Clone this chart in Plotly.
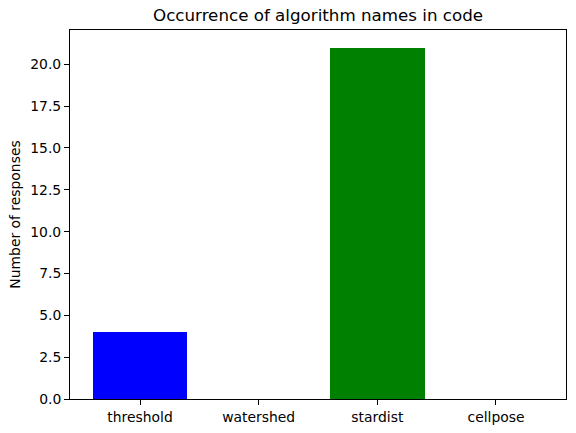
import plotly.graph_objects as go

categories = ["threshold", "watershed", "stardist", "cellpose"]
counts = [4, 0, 21, 0]
bar_colors = ["blue", "red", "green", "orange"]
y_ticks = [0, 2.5, 5, 7.5, 10, 12.5, 15, 17.5, 20]

FONT = "DejaVu Sans"
TICK_SIZE = 13.9
TITLE_SIZE = 16.7

fig = go.Figure()
fig.add_trace(go.Bar(
    x=list(range(len(categories))),
    y=counts,
    width=0.8,
    marker=dict(color=bar_colors, line=dict(width=0)),
    showlegend=False,
))

fig.update_layout(
    width=576, height=433,
    margin=dict(l=70, r=10, t=30, b=34),
    paper_bgcolor="white", plot_bgcolor="white",
    font=dict(family=FONT, size=TICK_SIZE, color="black"),
    bargap=0,
    annotations=[
        dict(text="Occurrence of algorithm names in code", x=0.5, y=1,
             xref="paper", yref="paper", xanchor="center", yanchor="bottom",
             yshift=3, showarrow=False, font=dict(family=FONT, size=TITLE_SIZE, color="black")),
    ],
)

fig.update_xaxes(
    range=[-0.59, 3.59], automargin=False,
    tickmode="array", tickvals=list(range(len(categories))), ticktext=categories,
    showline=True, linecolor="black", linewidth=1, mirror=True,
    ticks="outside", ticklen=5, tickwidth=1, tickcolor="black",
    showgrid=False, zeroline=False,
)
fig.update_yaxes(
    range=[0, 22.05], automargin=False,
    tickmode="array", tickvals=y_ticks, ticktext=[f"{v:.1f}" for v in y_ticks],
    showline=True, linecolor="black", linewidth=1, mirror=True,
    ticks="outside", ticklen=5, tickwidth=1, tickcolor="black",
    showgrid=False, zeroline=False,
    title=dict(text="Number of responses", font=dict(family=FONT, size=TICK_SIZE, color="black"), standoff=6),
)

fig.write_html("out.html")
